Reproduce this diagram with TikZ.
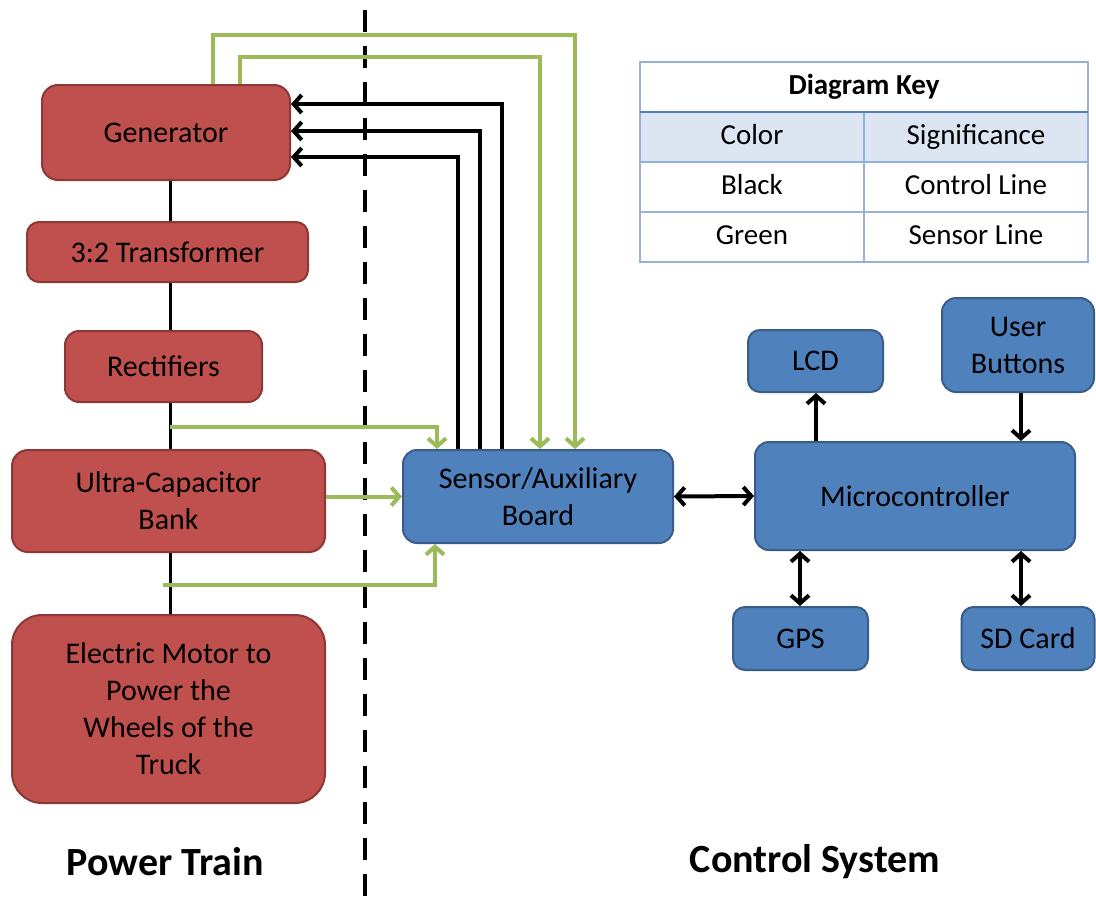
\documentclass[tikz,border=0pt]{standalone}
\usepackage{fontspec}
\setmainfont{Carlito}
\usetikzlibrary{arrows.meta,calc}
\definecolor{ptred}{HTML}{C0504D}
\definecolor{ptredline}{HTML}{8C3836}
\definecolor{csblue}{HTML}{4F81BD}
\definecolor{csblueline}{HTML}{385D8A}
\definecolor{sensegreen}{HTML}{9BBB59}
\definecolor{keyline}{HTML}{95B3D7}
\definecolor{keyhead}{HTML}{DCE6F2}
\tikzset{
  x=1pt, y=-1pt,
  txt/.style={font=\fontsize{30}{37}\selectfont, text=black, align=center},
  pbox/.style={txt, draw=ptredline, fill=ptred, line width=2pt, rounded corners=16pt, inner sep=0pt},
  cbox/.style={txt, draw=csblueline, fill=csblue, line width=2pt, rounded corners=14pt, inner sep=0pt},
  barb/.tip={Straight Barb[length=8pt,width=18pt]},
  ctrl/.style={draw=black, line width=4pt, -barb},
  ctrlboth/.style={draw=black, line width=4pt, barb-barb},
  sense/.style={draw=sensegreen, line width=4pt, -barb},
  bus/.style={draw=black, line width=3pt},
  keycell/.style={font=\fontsize{29}{35}\selectfont, text=black, text height=20pt, text depth=6pt, inner sep=0pt},
  section/.style={font=\fontsize{40}{48}\selectfont\bfseries, text=black}
}
\begin{document}
\begin{tikzpicture}
\useasboundingbox (0,0) rectangle (1096,905);

% guide coordinates for connector routing
\coordinate (s1) at (213,35);
\coordinate (s1r) at (575,35);
\coordinate (s2) at (240,57);
\coordinate (s2r) at (540,57);
\coordinate (c1) at (502,104);
\coordinate (c2) at (480,131);
\coordinate (c3) at (458,157);
\coordinate (tapA) at (170,427);
\coordinate (g1) at (437,0);
\coordinate (tapB) at (163,585);
\coordinate (g2) at (435,0);
\coordinate (sdx) at (1021,0);
\coordinate (gpsx) at (800,0);
\coordinate (lcdx) at (816,0);

% power train spine (drawn first, boxes cover it)
\coordinate (spinetop) at (170,180);
\coordinate (spinebot) at (170,615);
\draw[bus] (spinetop) -- (spinebot);

% divider between the two halves
\coordinate (divtop) at (365,10);
\coordinate (divbot) at (365,905);
\draw[line width=4pt, dash pattern=on 22pt off 14pt] (divtop) -- (divbot);

% power train blocks
\node[pbox, minimum width=248pt, minimum height=95pt] (gen) at (166,132.5) {Generator};
\node[pbox, minimum width=281pt, minimum height=60pt, rounded corners=12pt] (trans) at (167.5,252) {3:2 Transformer};
\node[pbox, minimum width=197pt, minimum height=71pt, rounded corners=14pt] (rect) at (163.5,366.5) {Rectifiers};
\node[pbox, minimum width=313pt, minimum height=102pt] (cap) at (168.5,501) {Ultra-Capacitor\\Bank};
\node[pbox, minimum width=313pt, minimum height=188pt, rounded corners=30pt] (motor) at (168.5,709) {Electric Motor to\\Power the\\Wheels of the\\Truck};

% control system blocks
\node[cbox, minimum width=270pt, minimum height=93pt] (board) at (538,496.5) {Sensor/Auxiliary\\Board};
\node[cbox, minimum width=320pt, minimum height=108pt] (mcu) at (915,496) {Microcontroller};
\node[cbox, minimum width=135pt, minimum height=62pt, rounded corners=12pt] (lcd) at (815.5,361) {LCD};
\node[cbox, minimum width=152pt, minimum height=94pt] (btn) at (1018,345) {User\\Buttons};
\node[cbox, minimum width=135pt, minimum height=63pt, rounded corners=12pt] (gps) at (800.5,638.5) {GPS};
\node[cbox, minimum width=133pt, minimum height=63pt, rounded corners=12pt] (sd) at (1028,638.5) {SD Card};

% sensor lines from the generator
\draw[sense] (gen.north -| s1) |- (s1r) -- (board.north -| s1r);
\draw[sense] (gen.north -| s2) |- (s2r) -- (board.north -| s2r);

% control lines to the generator
\draw[ctrl] (board.north -| c1) |- (gen.east |- c1);
\draw[ctrl] (board.north -| c2) |- (gen.east |- c2);
\draw[ctrl] (board.north -| c3) |- (gen.east |- c3);

% sensor taps on the power train
\draw[sense] (tapA) -| (board.north -| g1);
\draw[sense] (cap.east |- board.west) -- (board.west);
\draw[sense] (tapB) -| (board.south -| g2);

% control system links
\draw[ctrlboth] (board.east) -- (mcu.west);
\draw[ctrl] (mcu.north -| lcdx) -- (lcd.south -| lcdx);
\draw[ctrl] (btn.south -| sdx) -- (mcu.north -| sdx);
\draw[ctrlboth] (mcu.south -| gpsx) -- (gps.north -| gpsx);
\draw[ctrlboth] (mcu.south -| sdx) -- (sd.north -| sdx);

% diagram key
\fill[keyhead] (640,112) rectangle (1088,162);
\draw[keyline, line width=1.2pt] (640,62) rectangle (1088,262);
\draw[keyline, line width=1.2pt] (640,162) -- (1088,162);
\draw[keyline, line width=1.2pt] (640,212) -- (1088,212);
\draw[keyline, line width=1.2pt] (864,112) -- (864,262);
\draw[csblue, line width=2.5pt] (640,112) -- (1088,112);
\node[keycell, font=\fontsize{29}{35}\selectfont\bfseries] (keytitle) at (864,87) {Diagram Key};
\node[keycell] (k11) at (752,137) {Color};
\node[keycell] (k12) at (976,137) {Significance};
\node[keycell] (k21) at (752,187) {Black};
\node[keycell] (k22) at (976,187) {Control Line};
\node[keycell] (k31) at (752,237) {Green};
\node[keycell] (k32) at (976,237) {Sensor Line};

% section titles
\node[section] (ptlabel) at (165,862) {Power Train};
\node[section] (cslabel) at (815,862) {Control System};
\end{tikzpicture}
\end{document}
